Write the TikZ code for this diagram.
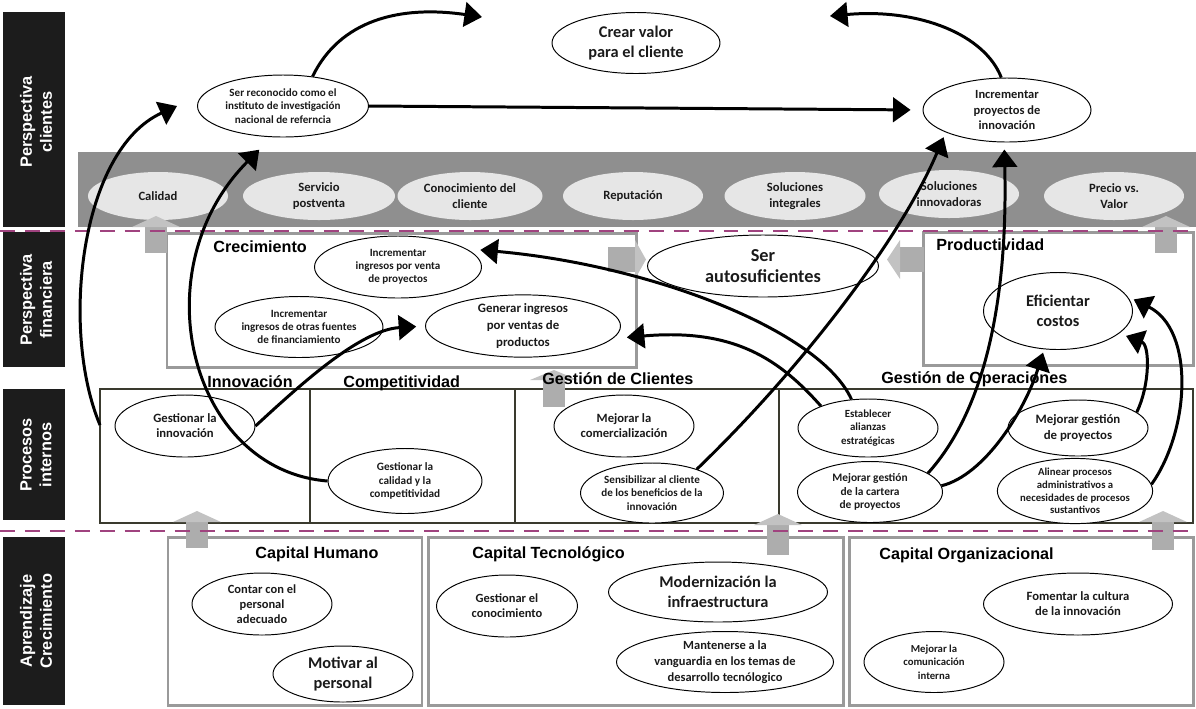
\documentclass[tikz,border=0pt]{standalone}
\usepackage{fontspec}
\usetikzlibrary{arrows.meta,shapes.geometric,calc}
\newfontfamily\cf{Carlito}
\newfontfamily\hf{Liberation Sans}
\definecolor{bandgray}{HTML}{8F8F8F}
\definecolor{pillgray}{HTML}{E6E6E6}
\definecolor{framegray}{HTML}{9A9A9A}
\definecolor{blockgray}{HTML}{ADADAD}
\definecolor{blockhead}{HTML}{C2C2C2}
\definecolor{procframe}{HTML}{3A3A2E}
\definecolor{dashmag}{HTML}{A0437F}
\definecolor{labelblack}{HTML}{1C1C1C}
\definecolor{inktext}{HTML}{1A1A1A}

\tikzset{
  ov/.style n args={3}{ellipse, draw=black, line width=0.55pt, fill=white, inner sep=0pt,
    minimum width=#1*0.02cm, minimum height=#2*0.02cm, align=center, text=inktext,
    font=\cf\bfseries#3},
  pill/.style n args={2}{ellipse, fill=pillgray, inner sep=0pt,
    minimum width=#1*0.02cm, minimum height=#2*0.02cm, align=center, text=inktext,
    font=\cf\bfseries\fontsize{7.2}{9.4}\selectfont},
  side/.style={rotate=90, align=center, text=white, inner sep=0pt,
    font=\hf\bfseries\fontsize{9.3}{11.3}\selectfont},
  hdr/.style={anchor=base west, inner sep=0pt, text=black,
    font=\hf\bfseries\fontsize{9.2}{11}\selectfont},
  link/.style={line width=1.7pt, -{Triangle[length=10pt,width=14pt]}},
  grayframe/.style={draw=framegray, line width=1.7pt},
  darkframe/.style={draw=procframe, line width=1.5pt},
  magline/.style={draw=dashmag, line width=1.6pt, dash pattern=on 8.5pt off 5.7pt}
}

% upward block arrow: centre x, shaft bottom, shaft top, tip
\newcommand{\upblock}[4]{%
  \fill[blockgray] (#1-11,#2) rectangle (#1+11,#3);
  \fill[blockhead] (#1-24,#3) -- (#1,#4) -- (#1+24,#3) -- cycle;}

\begin{document}
\begin{tikzpicture}[x=0.02cm, y=-0.02cm]
\useasboundingbox (0,0) rectangle (1196,708);

% perspective labels on the left
\fill[labelblack] (3,12) rectangle (65,227);
\fill[labelblack] (3,232) rectangle (65,367);
\fill[labelblack] (3,389) rectangle (65,520);
\fill[labelblack] (3,537) rectangle (65,705);
\node[side] (lclient) at (36,122) {Perspectiva\\clientes};
\node[side] (lfin) at (36,300) {Perspectiva\\financiera};
\node[side] (lproc) at (36,455) {Procesos\\internos};
\node[side] (lapr) at (36,621) {Aprendizaje\\Crecimiento};

% value proposition band
\fill[bandgray] (78,152) rectangle (1196,227);
\node[pill={140}{48}] (p1) at (158,196) {Calidad};
\node[pill={152}{48}] (p2) at (319,196) {Servicio\\postventa};
\node[pill={145}{48}] (p3) at (470,196) {Conocimiento del\\cliente};
\node[pill={140}{48}] (p4) at (633,196) {Reputación};
\node[pill={141}{48}] (p5) at (795,196) {Soluciones\\integrales};
\node[pill={140}{48}] (p6) at (949,194) {Soluciones\\innovadoras};
\node[pill={140}{48}] (p7) at (1114,196) {Precio vs.\\Valor};

% frames
\draw[grayframe] (167,233) rectangle (636,367);
\draw[grayframe] (923,232) rectangle (1193,365);
\draw[darkframe] (100,389) rectangle (1193,523);
\draw[darkframe] (310,389) -- (310,523);
\draw[darkframe] (515,389) -- (515,523);
\draw[darkframe] (779,389) -- (779,523);
\draw[grayframe] (168,537) rectangle (422,705);
\draw[grayframe] (428,537) rectangle (843,705);
\draw[grayframe] (849,537) rectangle (1193,705);

% block arrows between layers
\upblock{156}{253}{227}{216}
\upblock{1166}{253}{227}{216}
\upblock{554}{407}{380}{370}
\upblock{197}{548}{522}{511}
\upblock{778}{555}{525}{514}
\upblock{1163}{550}{522}{511}
\fill[blockgray] (608,247) rectangle (635,272);
\fill[blockhead] (635,240) -- (646,259.5) -- (635,279) -- cycle;
\fill[blockgray] (900,247) rectangle (924,272);
\fill[blockhead] (900,240) -- (887,259.5) -- (900,279) -- cycle;

% layer separators
\draw[magline] (0,231) -- (1196,231);
\draw[magline] (0,531) -- (1196,531);

% group headings
\node[hdr] (hcre) at (213,252) {Crecimiento};
\node[hdr] (hpro) at (936,250) {Productividad};
\node[hdr] (hinn) at (207,387) {Innovación};
\node[hdr] (hcomp) at (343,387) {Competitividad};
\node[hdr] (hgcl) at (542,384) {Gestión de Clientes};
\node[hdr] (hgop) at (881,383) {Gestión de Operaciones};
\node[hdr] (hch) at (255,558) {Capital Humano};
\node[hdr] (hct) at (472,558) {Capital Tecnológico};
\node[hdr] (hco) at (879,559) {Capital Organizacional};

% customer objectives
\node[ov={171}{62}{\fontsize{6.3}{7.8}\selectfont}] (reco) at (283,106) {Ser reconocido como el\\instituto de investigación\\nacional de referncia};
\node[ov={168}{61}{\fontsize{9.3}{11.3}\selectfont}] (crear) at (636,43) {Crear valor\\para el cliente};
\node[ov={168}{64}{\fontsize{7.1}{9}\selectfont}] (inc) at (1007,110) {Incrementar\\proyectos de\\innovación};

% financial objectives
\node[ov={167}{62}{\fontsize{6.3}{7.5}\selectfont}] (incv) at (398,267) {Incrementar\\ingresos por venta\\de proyectos};
\node[ov={168}{61}{\fontsize{6.3}{7.5}\selectfont}] (incf) at (299,327) {Incrementar\\ingresos de otras fuentes\\de financiamiento};
\node[ov={195}{61}{\fontsize{7.3}{9.4}\selectfont}] (gen) at (523,326) {Generar ingresos\\por ventas de\\productos};
\node[ov={231}{62}{\fontsize{10.4}{12.3}\selectfont}] (auto) at (763,266) {Ser\\autosuficientes};
\node[ov={149}{77}{\fontsize{9.3}{11.3}\selectfont}] (efi) at (1058,311) {Eficientar\\costos};

% internal process objectives
\node[ov={140}{62}{\fontsize{7.2}{8.5}\selectfont}] (gin) at (185,426) {Gestionar la\\innovación};
\node[ov={154}{65}{\fontsize{6.4}{7.6}\selectfont}] (cal) at (405,481) {Gestionar la\\calidad y la\\competitividad};
\node[ov={140}{62}{\fontsize{7.2}{8.5}\selectfont}] (com) at (624,426) {Mejorar la\\comercialización};
\node[ov={140}{60}{\fontsize{6.3}{7.6}\selectfont}] (sens) at (652,493) {Sensibilizar al cliente\\de los beneficios de la\\innovación};
\node[ov={140}{58}{\fontsize{6.2}{7.6}\selectfont}] (est) at (868,428) {Establecer\\alianzas\\estratégicas};
\node[ov={145}{61}{\fontsize{6.5}{7.6}\selectfont}] (cart) at (870,492) {Mejorar gestión\\de la cartera\\de proyectos};
\node[ov={140}{56}{\fontsize{7.3}{8.9}\selectfont}] (mgp) at (1078,428) {Mejorar gestión\\de proyectos};
\node[ov={152}{63}{\fontsize{6.1}{7.3}\selectfont}] (ali) at (1075,491) {Alinear procesos\\administrativos a\\necesidades de procesos\\sustantivos};

% learning and growth objectives
\node[ov={140}{62}{\fontsize{7.1}{8.5}\selectfont}] (cont) at (262,604) {Contar con el\\personal\\adecuado};
\node[ov={140}{56}{\fontsize{9.3}{11.3}\selectfont}] (moti) at (343,674) {Motivar al\\personal};
\node[ov={141}{62}{\fontsize{7.1}{8.5}\selectfont}] (gcon) at (507,606) {Gestionar el\\conocimiento};
\node[ov={219}{60}{\fontsize{9.3}{11.3}\selectfont}] (mode) at (718,592) {Modernización la\\infraestructura};
\node[ov={217}{61}{\fontsize{7.1}{9}\selectfont}] (mant) at (725,662) {Mantenerse a la\\vanguardia en los temas de\\desarrollo tecnólogico};
\node[ov={189}{62}{\fontsize{7.2}{8.6}\selectfont}] (fome) at (1078,604) {Fomentar la cultura\\de la innovación};
\node[ov={140}{61}{\fontsize{6.1}{7.8}\selectfont}] (comi) at (934,662) {Mejorar la\\comunicación\\interna};

% free ends of connectors
\coordinate (tipL) at (482,17);
\coordinate (tipR) at (830,16);
\coordinate (procL) at (100,425);

% cause-effect links
\draw[link] (reco.45) .. controls (340,20) and (400,5) .. (tipL);
\draw[link] (inc.100) .. controls (985,35) and (920,8) .. (tipR);
\draw[link, shorten >=6.8pt] (reco.east) -- (inc.west);
\draw[link] (procL) .. controls (60,330) and (80,150) .. ([xshift=-0.4cm]reco.west);
\draw[link, shorten >=10pt] (cal.west) .. controls (190,470) and (140,270) .. (reco.250);
\draw[link, shorten >=5pt] (gin.east) .. controls (300,385) and (360,330) .. (gen.west);
\draw[link, shorten >=8pt] (est.120) .. controls (820,330) and (650,265) .. (incv.15);
\draw[link, shorten >=8pt] (est.155) .. controls (780,360) and (735,328) .. (gen.-8);
\draw[link, shorten >=3pt] (sens.28) .. controls (800,370) and (900,240) .. (inc.200);
\draw[link, shorten >=4pt] (cart.18) .. controls (985,410) and (1008,300) .. (inc.265);
\draw[link, shorten >=2pt] (cart.5) .. controls (985,475) and (1025,410) .. (efi.250);
\draw[link, shorten >=4pt] (mgp.15) .. controls (1150,385) and (1150,345) .. (efi.-20);
\draw[link, shorten >=4pt] (ali.5) .. controls (1190,430) and (1195,330) .. (efi.12);
\end{tikzpicture}
\end{document}
